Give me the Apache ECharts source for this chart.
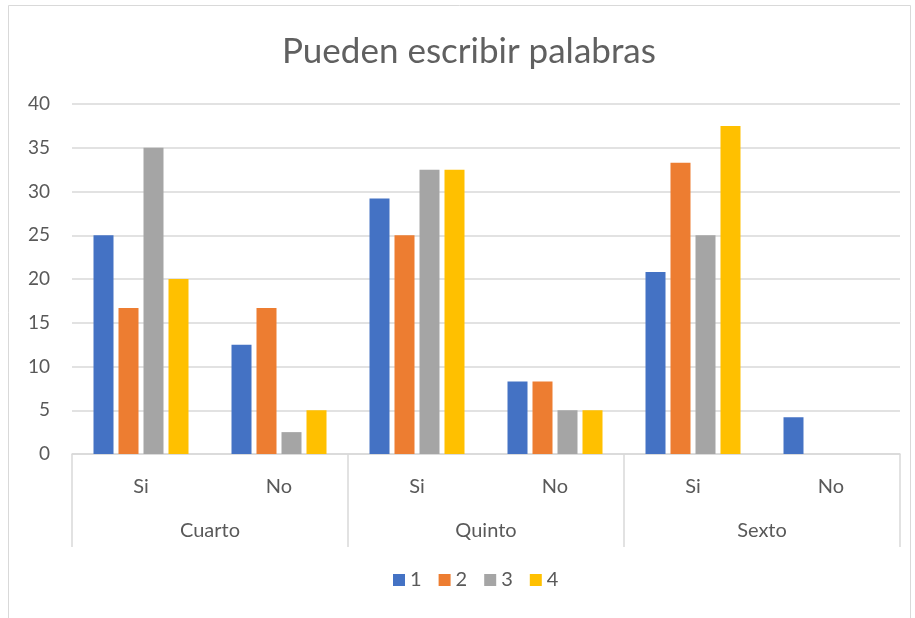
<!DOCTYPE html>
<html>
<head>
<meta charset="utf-8">
<script src="https://cdn.jsdelivr.net/npm/echarts@6/dist/echarts.min.js"></script>
<style>
  html, body { margin: 0; padding: 0; background: #fff; }
  #chart { width: 915px; height: 618px; }
</style>
</head>
<body>
<div id="chart"></div>
<script>
// datos del gráfico
const grades = ["Cuarto", "Quinto", "Sexto"];
const answers = ["Si", "No", "Si", "No", "Si", "No"];
const seriesNames = ["1", "2", "3", "4"];
const values1 = [25, 12.5, 29.2, 8.3, 20.8, 4.2];
const values2 = [16.7, 16.7, 25, 8.3, 33.3, 0];
const values3 = [35, 2.5, 32.5, 5, 25, 0];
const values4 = [20, 5, 32.5, 5, 37.5, 0];
const colors = ["#4472C4", "#ED7D31", "#A5A5A5", "#FFC000"];

const textColor = "#595959";
const lineColor = "#d9d9d9";
const font = "Lato";

let myChart = echarts.init(document.getElementById("chart"));
let allValues = [values1, values2, values3, values4];

let option = {
  backgroundColor: "#fff",
  color: colors,
  textStyle: { fontFamily: font },
  title: {
    text: "Pueden escribir palabras",
    left: 277,
    top: 29,
    textStyle: { color: "#606060", fontSize: 35, fontWeight: "normal", fontFamily: font }
  },
  legend: {
    bottom: 23,
    left: 388,
    itemWidth: 12,
    itemHeight: 12,
    itemGap: 17,
    icon: "rect",
    textStyle: { color: textColor, fontSize: 20, padding: [0, 0, 0, 0] },
    data: seriesNames
  },
  grid: {
    top: 104,
    left: 72,
    right: 15,
    bottom: 164
  },
  xAxis: [
    {
      type: "category",
      data: answers,
      axisLine: { show: true, lineStyle: { color: lineColor, width: 1.5 } },
      axisTick: { show: false },
      axisLabel: { color: textColor, fontSize: 20, margin: 23 }
    },
    {
      type: "category",
      data: grades,
      position: "bottom",
      axisLine: { show: false },
      axisTick: { show: true, length: 93, interval: 0, lineStyle: { color: lineColor, width: 1.5 } },
      axisLabel: { color: textColor, fontSize: 20, margin: 67 }
    }
  ],
  yAxis: {
    type: "value",
    min: 0,
    max: 40,
    interval: 5,
    axisLine: { show: false },
    axisTick: { show: false },
    axisLabel: { color: textColor, fontSize: 19, margin: 22 },
    splitLine: { lineStyle: { color: lineColor, width: 1.5 } }
  },
  series: seriesNames.map((name, i) => ({
    name: name,
    type: "bar",
    xAxisIndex: 0,
    barWidth: 20,
    barGap: "25%",
    itemStyle: { color: colors[i] },
    data: allValues[i]
  })),
  graphic: [
    {
      type: "rect",
      shape: { x: 8.5, y: 5.5, width: 902, height: 620 },
      style: { fill: null, stroke: "#d9d9d9", lineWidth: 1 },
      silent: true
    }
  ]
};
myChart.setOption(option, true);
</script>
</body>
</html>
